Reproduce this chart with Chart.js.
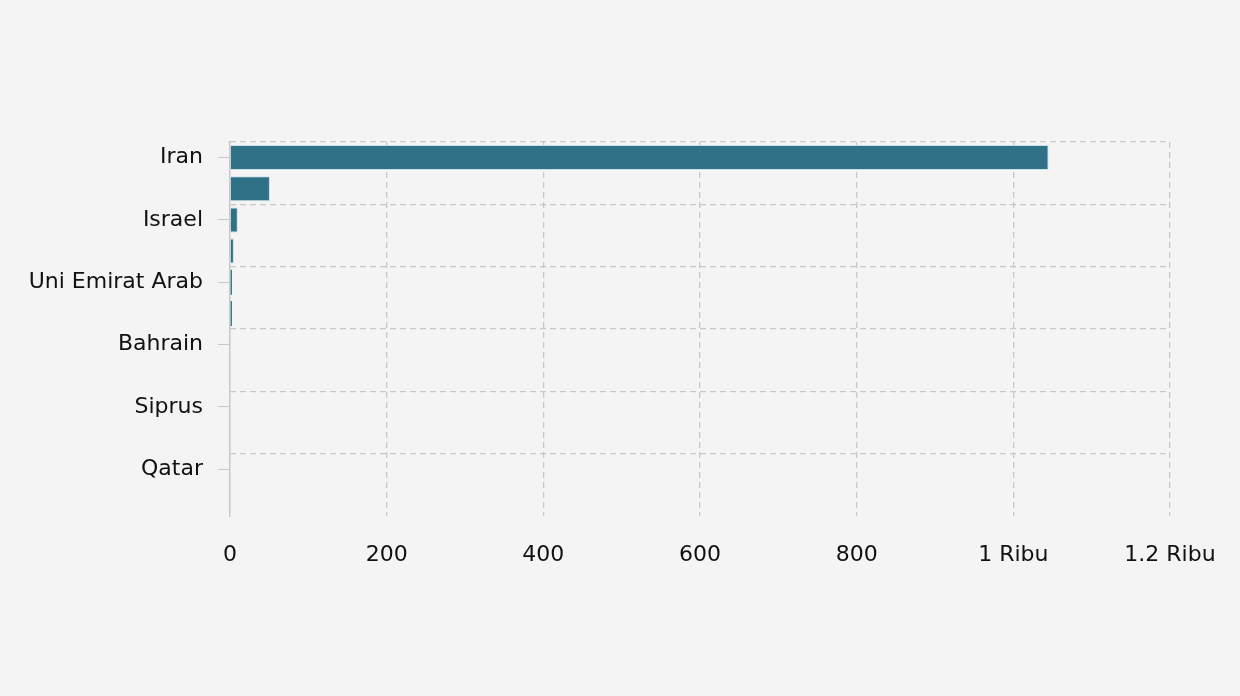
<!DOCTYPE html>
<html>
<head>
<meta charset="utf-8">
<script src="https://cdn.jsdelivr.net/npm/chart.js"></script>
<style>
  html, body { margin: 0; padding: 0; background: #f4f4f4; }
  #wrap { width: 1240px; height: 696px; }
</style>
</head>
<body>
<div id="wrap"><canvas id="chart"></canvas></div>
<script>
// Countries (every other label is shown on the axis)
const countries = ["Iran", "Lebanon", "Israel", "Irak", "Uni Emirat Arab", "Kuwait",
                   "Bahrain", "Yordania", "Siprus", "Oman", "Qatar", "Arab Saudi"];
const values = [1045, 51, 10, 5, 2.5, 2.5, 0, 0, 0, 0, 0, 0];
const xTicks = [0, 200, 400, 600, 800, 1000, 1200];

const gridGray = "#c8c8c8";
const font = { family: "'DejaVu Sans', Verdana, sans-serif", size: 22 };

function formatRibu(v) {
    if (v >= 1000) return (v / 1000).toString() + " Ribu";
    return v.toString();
}

new Chart(document.getElementById("chart"), {
    type: "bar",
    data: {
        labels: countries,
        datasets: [{
            data: values,
            yAxisID: "y",
            backgroundColor: "#2f7287",
            borderColor: "rgba(200, 222, 232, 0.9)",
            // thin bars have no visible outline
            borderWidth: ctx => (ctx.raw !== undefined && ctx.raw < 4) ? 0 : 1,
            barPercentage: 0.8,
            categoryPercentage: 1
        }]
    },
    options: {
        indexAxis: "y",
        responsive: true,
        maintainAspectRatio: false,
        animation: false,
        layout: { padding: { top: 142, right: 70, bottom: 100, left: 0 } },
        plugins: { legend: { display: false }, tooltip: { enabled: false } },
        scales: {
            // label axis: text and tick marks at category centres
            y2: {
                type: "category",
                position: "left",
                offset: true,
                grid: {
                    offset: false,
                    drawOnChartArea: false,
                    tickLength: 12,
                    tickColor: ctx => ctx.index % 2 === 0 ? gridGray : "transparent"
                },
                border: { display: true, color: gridGray, width: 1.5 },
                ticks: {
                    autoSkip: false,
                    padding: 15,
                    color: "#111",
                    font: font,
                    callback: function (v, i) { return i % 2 === 0 ? this.getLabelForValue(v) : ""; }
                },
                afterFit: s => { s.width = 230; }
            },
            // data axis: dashed grid lines between pairs of categories
            y: {
                type: "category",
                position: "left",
                offset: true,
                grid: {
                    offset: true,
                    drawTicks: false,
                    lineWidth: 1.3,
                    color: ctx => ctx.index % 2 === 0 ? gridGray : "transparent"
                },
                border: { display: false, dash: [6, 4] },
                ticks: { display: false },
                afterFit: s => { s.width = 0; }
            },
            x: {
                type: "linear",
                min: 0,
                max: 1200,
                afterBuildTicks: s => { s.ticks = xTicks.map(v => ({ value: v })); },
                grid: {
                    drawTicks: false,
                    lineWidth: 1.3,
                    color: ctx => ctx.index === 0 ? "transparent" : gridGray
                },
                border: { display: false, dash: [6, 4] },
                ticks: {
                    padding: 26,
                    color: "#111",
                    font: font,
                    maxRotation: 0,
                    callback: v => formatRibu(v)
                },
                afterFit: s => {
                    s.height = 80;
                    s.paddingLeft = 0;
                    s.paddingRight = 0;
                }
            }
        }
    }
});
</script>
</body>
</html>
